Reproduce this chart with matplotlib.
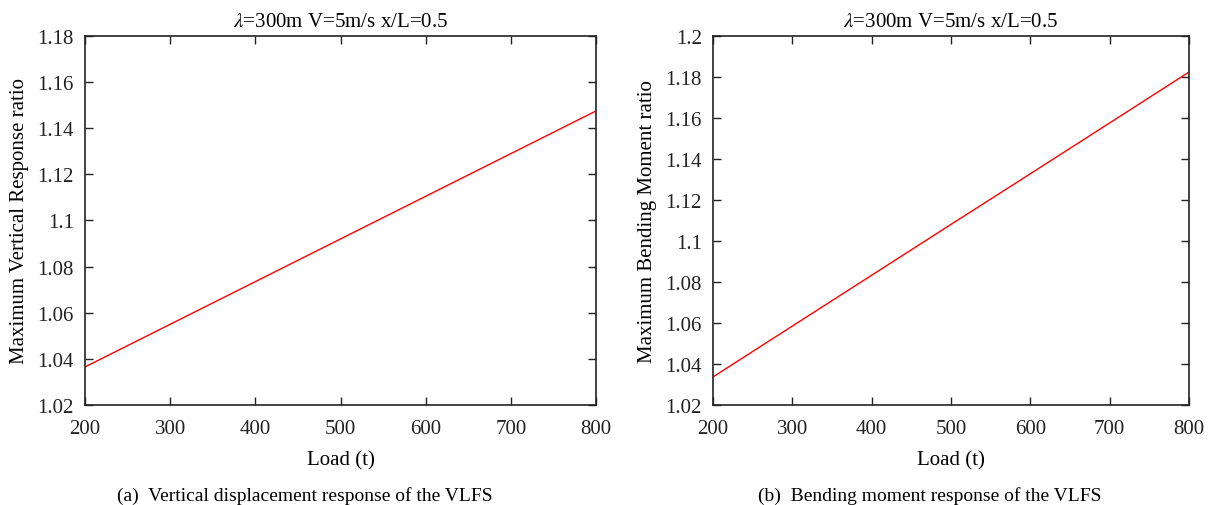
import matplotlib
matplotlib.use("Agg")
import matplotlib.pyplot as plt
import numpy as np

plt.rcParams['font.family'] = ['Liberation Serif', 'DejaVu Serif']
plt.rcParams['mathtext.fontset'] = 'stix'

load = [200, 300, 400, 500, 600, 700, 800]
disp_ratio = [1.0365, 1.0550, 1.0735, 1.0920, 1.1105, 1.1290, 1.1475]
moment_ratio = [1.0337, 1.0585, 1.0833, 1.1081, 1.1328, 1.1576, 1.1824]

title = r'$\lambda$=300m V=5m/s x/L=0.5'

fig = plt.figure(figsize=(12.11, 5.06), dpi=100)
ax1 = fig.add_axes([85/1211, 1-406/506, (596-85)/1211, (406-37)/506])
ax2 = fig.add_axes([713/1211, 1-406/506, (1189-713)/1211, (406-37)/506])

FS = 15

def style(ax):
    ax.tick_params(direction='in', top=True, right=True, length=6, width=1.0,
                   labelsize=FS, colors='#222222')
    ax.tick_params(axis='x', pad=10)
    ax.tick_params(axis='y', pad=8)
    for s in ax.spines.values():
        s.set_linewidth(1.2)
        s.set_color('#222222')
    ax.set_xlim(200, 800)
    ax.set_xticks([200, 300, 400, 500, 600, 700, 800])

ax1.plot(load, disp_ratio, color='red', lw=1.0)
style(ax1)
ax1.set_ylim(1.02, 1.18)
ax1.set_yticks([1.02, 1.04, 1.06, 1.08, 1.1, 1.12, 1.14, 1.16, 1.18])
ax1.set_yticklabels(['1.02', '1.04', '1.06', '1.08', '1.1', '1.12', '1.14', '1.16', '1.18'])
ax1.set_title(title, fontsize=FS, pad=7)
ax1.set_xlabel('Load (t)', fontsize=FS, labelpad=9)
ax1.set_ylabel('Maximum Vertical Response ratio', fontsize=FS, labelpad=6)

ax2.plot(load, moment_ratio, color='red', lw=1.0)
style(ax2)
ax2.set_ylim(1.02, 1.2)
ax2.set_yticks([1.02, 1.04, 1.06, 1.08, 1.1, 1.12, 1.14, 1.16, 1.18, 1.2])
ax2.set_yticklabels(['1.02', '1.04', '1.06', '1.08', '1.1', '1.12', '1.14', '1.16', '1.18', '1.2'])
ax2.set_title(title, fontsize=FS, pad=7)
ax2.set_xlabel('Load (t)', fontsize=FS, labelpad=9)
ax2.set_ylabel('Maximum Bending Moment ratio', fontsize=FS, labelpad=6)

fig.text(305/1211, 1-496/506, '(a)  Vertical displacement response of the VLFS',
         ha='center', va='center', fontsize=14)
fig.text(930/1211, 1-496/506, '(b)  Bending moment response of the VLFS',
         ha='center', va='center', fontsize=14)

fig.savefig('out.png', dpi=100)
